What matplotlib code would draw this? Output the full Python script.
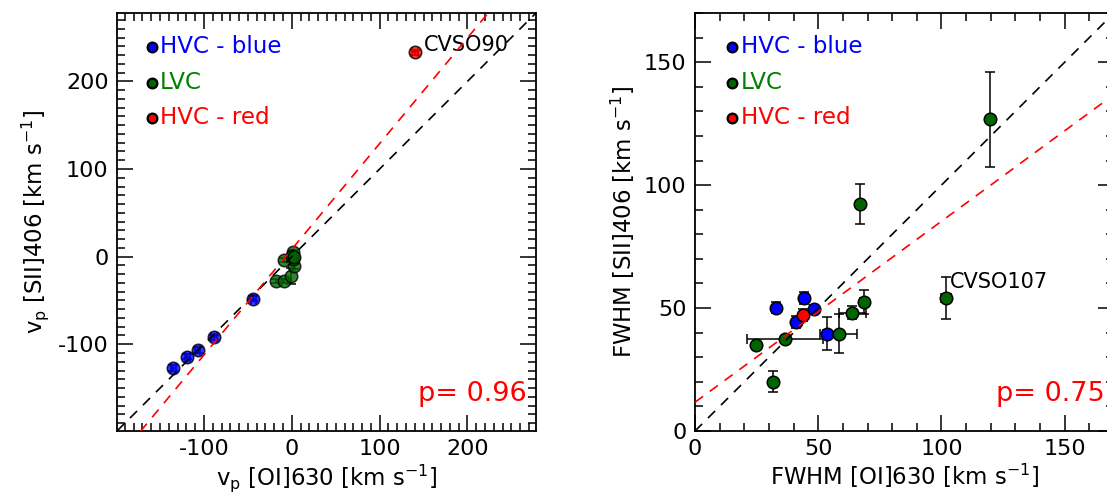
import matplotlib
matplotlib.use("Agg")
import matplotlib.pyplot as plt
import numpy as np

plt.rcParams['font.family'] = ['DejaVu Sans']
plt.rcParams['axes.unicode_minus'] = False
plt.rcParams['mathtext.fontset'] = 'dejavusans'

# ---------------- Left panel data: peak velocities ----------------
vp_blue_oi = [-135, -119, -107, -88.5, -44]
vp_blue_sii = [-127, -114, -106.5, -92, -48]
vp_blue_err = [3, 3, 3, 3, 3]

vp_lvc_oi = [-18, -9, -1, 2, 1, -9, 1, 0, 2]
vp_lvc_sii = [-28, -28, -22, -11, -3, -4, 5, 1, -1]
vp_lvc_err = [2, 2, 9, 3, 3, 2, 3, 3, 3]

vp_red_oi = [140.4]
vp_red_sii = [233.2]
vp_red_err = [3]

vp_fit = (1.206, 8.4)      # slope, intercept of red dashed fit
vp_lim = (-199, 278)

# ---------------- Right panel data: FWHM ----------------
fw_blue_oi = [32.9, 44.2, 40.8, 48.3, 53.6]
fw_blue_sii = [50.1, 54.2, 44.4, 49.7, 39.6]
fw_blue_xerr = [1.0, 1.0, 1.0, 1.0, 1.5]
fw_blue_yerr = [2.2, 2.4, 2.5, 1.5, 6.6]

fw_lvc_oi = [36.6, 24.8, 31.7, 58.4, 63.8, 68.6, 67.0, 119.6, 102.0]
fw_lvc_sii = [37.5, 34.8, 20.1, 39.6, 48.1, 52.4, 92.3, 126.7, 54.1]
fw_lvc_xerr = [15.5, 1.0, 0.5, 7.5, 5.5, 1.5, 1.0, 0.5, 2.0]
fw_lvc_yerr = [1.0, 1.5, 4.3, 8.0, 2.6, 5.0, 8.3, 19.2, 8.7]

fw_red_oi = [43.9]
fw_red_sii = [47.2]
fw_red_xerr = [1.5]
fw_red_yerr = [2.4]

fw_fit = (0.736, 11.7)
fw_lim = (0, 170)

C_BLUE = '#0000ff'
C_GREEN = '#006400'
C_RED = '#ff0000'
C_GREEN_TXT = '#008000'

fig = plt.figure(figsize=(11.07, 4.92), dpi=100)
ax1 = fig.add_axes([117/1107, 61/492, 419/1107, 418/492])
ax2 = fig.add_axes([695/1107, 61/492, 419/1107, 418/492])

FS = 16
FS_LAB = 16.4
FS_LEG = 16.6


def style_axes(ax, lim, major, minor):
    ax.set_xlim(lim)
    ax.set_ylim(lim)
    ax.set_xticks(np.arange(np.ceil(lim[0]/major)*major, lim[1]+0.1, major))
    ax.set_yticks(np.arange(np.ceil(lim[0]/major)*major, lim[1]+0.1, major))
    ax.set_xticks(np.arange(np.ceil(lim[0]/minor)*minor, lim[1]+0.1, minor), minor=True)
    ax.set_yticks(np.arange(np.ceil(lim[0]/minor)*minor, lim[1]+0.1, minor), minor=True)
    ax.tick_params(which='both', direction='in', top=True, right=True,
                   labelsize=FS, width=1.1)
    ax.tick_params(which='major', length=11.5, pad=6)
    ax.tick_params(which='minor', length=5.8)
    for s in ax.spines.values():
        s.set_linewidth(1.3)


def draw_panel(ax, lim, fit, groups, alpha):
    xs = np.array(lim)
    ax.plot(xs, xs, ls=(0, (6, 5)), color='black', lw=1.2, zorder=4)
    ax.plot(xs, fit[0]*xs + fit[1], ls=(0, (6, 5)), color=C_RED, lw=1.2, zorder=4)
    for x, y, xe, ye, c in groups:
        ax.errorbar(x, y, xerr=xe, yerr=ye, fmt='none', ecolor='black',
                    elinewidth=1.1, capsize=3.6, capthick=1.1, zorder=2)
        ax.plot(x, y, 'o', ms=9, mfc=c, mec='black', mew=1.1, alpha=alpha,
                ls='none', zorder=3)


def legend(ax, xm, xt):
    entries = [('HVC - blue', C_BLUE, C_BLUE), ('LVC', C_GREEN, C_GREEN_TXT),
               ('HVC - red', C_RED, C_RED)]
    ys = [0.919, 0.833, 0.749]
    for (lab, mc, tc), y in zip(entries, ys):
        ax.plot([xm], [y], 'o', ms=7, mfc=mc, mec='black', mew=1.6,
                transform=ax.transAxes, zorder=6, clip_on=False)
        ax.text(xt, y, lab, color=tc, fontsize=FS_LEG, transform=ax.transAxes,
                va='center', ha='left')


# Left panel
draw_panel(ax1, vp_lim, vp_fit,
           [(vp_blue_oi, vp_blue_sii, vp_blue_err, vp_blue_err, C_BLUE),
            (vp_lvc_oi, vp_lvc_sii, None, vp_lvc_err, C_GREEN),
            (vp_red_oi, vp_red_sii, vp_red_err, vp_red_err, C_RED)], 0.8)
style_axes(ax1, vp_lim, 100, 10)
legend(ax1, 0.0835, 0.102)
ax1.text(vp_red_oi[0] + 10, vp_red_sii[0] + 8, 'CVSO90', fontsize=15,
         va='center', ha='left')
ax1.text(0.978, 0.072, 'p= 0.96', color=C_RED, fontsize=19.5,
         transform=ax1.transAxes, ha='right', va='baseline')
ax1.set_xlabel(r'v$_{\rm p}$ [OI]630 [km s$^{-1}$]', fontsize=FS_LAB, labelpad=2)
ax1.set_ylabel(r'v$_{\rm p}$ [SII]406 [km s$^{-1}$]', fontsize=FS_LAB, labelpad=5)

# Right panel
draw_panel(ax2, fw_lim, fw_fit,
           [(fw_blue_oi, fw_blue_sii, fw_blue_xerr, fw_blue_yerr, C_BLUE),
            (fw_lvc_oi, fw_lvc_sii, fw_lvc_xerr, fw_lvc_yerr, C_GREEN),
            (fw_red_oi, fw_red_sii, fw_red_xerr, fw_red_yerr, C_RED)], 1.0)
style_axes(ax2, fw_lim, 50, 10)
legend(ax2, 0.088, 0.11)
ax2.text(fw_lvc_oi[8] + 1.5, fw_lvc_sii[8] + 6.5, 'CVSO107', fontsize=15,
         va='center', ha='left')
ax2.text(0.978, 0.072, 'p= 0.75', color=C_RED, fontsize=19.5,
         transform=ax2.transAxes, ha='right', va='baseline')
ax2.set_xlabel(r'FWHM [OI]630 [km s$^{-1}$]', fontsize=FS_LAB, labelpad=2)
ax2.set_ylabel(r'FWHM [SII]406 [km s$^{-1}$]', fontsize=FS_LAB, labelpad=5)

fig.savefig('out.png', dpi=100)
